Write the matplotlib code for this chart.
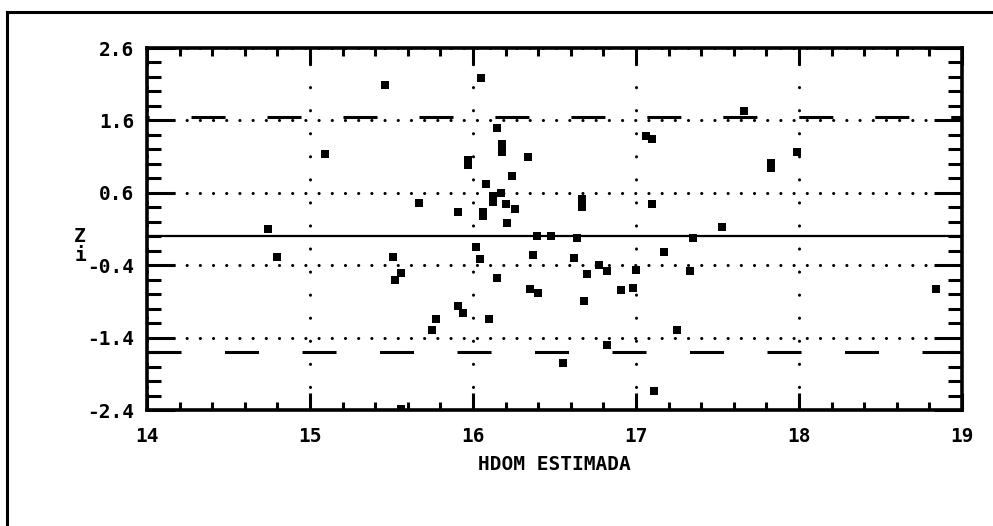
import matplotlib
matplotlib.use("Agg")
import matplotlib.pyplot as plt
from matplotlib.lines import Line2D
from matplotlib.ticker import MultipleLocator

# Estimated dominant height vs. standardized residual Z_i
hdom = [14.74, 14.80, 15.09, 15.46, 15.51, 15.56, 15.52, 15.56, 15.67, 15.75,
        15.77, 15.91, 15.91, 15.94, 15.97, 15.97, 16.02, 16.04, 16.05, 16.06,
        16.06, 16.08, 16.10, 16.12, 16.12, 16.15, 16.15, 16.17, 16.18, 16.18,
        16.20, 16.21, 16.24, 16.26, 16.34, 16.35, 16.37, 16.39, 16.40, 16.48,
        16.55, 16.62, 16.64, 16.67, 16.67, 16.68, 16.70, 16.77, 16.82, 16.82,
        16.91, 16.98, 17.00, 17.06, 17.10, 17.10, 17.11, 17.17, 17.25, 17.33,
        17.35, 17.53, 17.66, 17.83, 17.83, 17.99, 18.84]
z = [0.10, -0.29, 1.14, 2.09, -0.29, -0.51, -0.60, -2.38, 0.46, -1.29,
     -1.14, 0.33, -0.97, -1.06, 1.05, 0.98, -0.15, -0.32, 2.18, 0.34,
     0.28, 0.72, -1.14, 0.55, 0.47, 1.49, -0.57, 0.60, 1.28, 1.16,
     0.44, 0.18, 0.83, 0.37, 1.09, -0.73, -0.26, 0.00, -0.79, 0.00,
     -1.75, -0.30, -0.02, 0.51, 0.41, -0.90, -0.52, -0.40, -0.48, -1.50,
     -0.74, -0.72, -0.47, 1.38, 1.35, 0.45, -2.14, -0.22, -1.30, -0.48,
     -0.02, 0.13, 1.73, 1.01, 0.94, 1.16, -0.73]

x_ticks = [14, 15, 16, 17, 18, 19]
y_ticks = [2.6, 1.6, 0.6, -0.4, -1.4, -2.4]
upper_limit = 1.65
lower_limit = -1.6

plt.rcParams['lines.scale_dashes'] = False
plt.rcParams['font.family'] = ['DejaVu Sans Mono', 'DejaVu Sans']
plt.rcParams['font.weight'] = 'bold'

W, H = 993, 526
fig = plt.figure(figsize=(W / 100, H / 100), dpi=100)
ax = fig.add_axes([147 / W, 1 - 410 / H, (962 - 147) / W, (410 - 48) / H])

ax.set_xlim(x_ticks[0], x_ticks[-1])
ax.set_ylim(y_ticks[-1], y_ticks[0])
ax.set_xticks(x_ticks)
ax.set_xticklabels([str(t) for t in x_ticks])
ax.set_yticks(y_ticks)
ax.set_yticklabels([f"{t:.1f}" for t in y_ticks])
ax.xaxis.set_minor_locator(MultipleLocator(0.2))
ax.yaxis.set_minor_locator(MultipleLocator(0.2))

ax.tick_params(which='both', direction='in', top=True, right=True,
               width=2.2, color='k', labelsize=14)
ax.tick_params(axis='x', which='major', length=12, pad=12)
ax.tick_params(axis='x', which='minor', length=6)
ax.tick_params(axis='y', which='major', length=20, pad=9)
ax.tick_params(axis='y', which='minor', length=10)

for s in ax.spines.values():
    s.set_linewidth(2.6)

# dotted reference grid
ax.grid(axis='y', which='major', color='k', linestyle=(0, (0.1, 9.4)),
        linewidth=2.2, dash_capstyle='round')
ax.grid(axis='x', which='major', color='k', linestyle=(0, (0.1, 16.5)),
        linewidth=2.2, dash_capstyle='round')

# zero line and limit bands
ax.axhline(0, color='k', lw=1.6, zorder=2)
ax.axhline(upper_limit, color='k', lw=2.2, ls=(23, (24.5, 30.2)), zorder=2)
ax.axhline(lower_limit, color='k', lw=2.2, ls=(0, (24.5, 31.3)), zorder=2)

ax.plot(hdom, z, 's', ms=6.2, color='k', mew=0, zorder=3)

ax.set_xlabel('HDOM ESTIMADA', fontsize=14, fontweight='bold', labelpad=7)

fig.text(80 / W, 1 - 246 / H, 'Z', fontsize=14, fontweight='bold',
         ha='center', va='bottom')
fig.text(80 / W, 1 - 246 / H, 'i', fontsize=14, fontweight='bold',
         ha='center', va='top')

# page frame
fig.add_artist(Line2D([7 / W, 7 / W], [0, 1 - 12 / H], color='k', lw=2.2,
                      transform=fig.transFigure))
fig.add_artist(Line2D([7 / W, 1], [1 - 12 / H, 1 - 12 / H], color='k', lw=2.2,
                      transform=fig.transFigure))

fig.savefig('out.png', dpi=100)
